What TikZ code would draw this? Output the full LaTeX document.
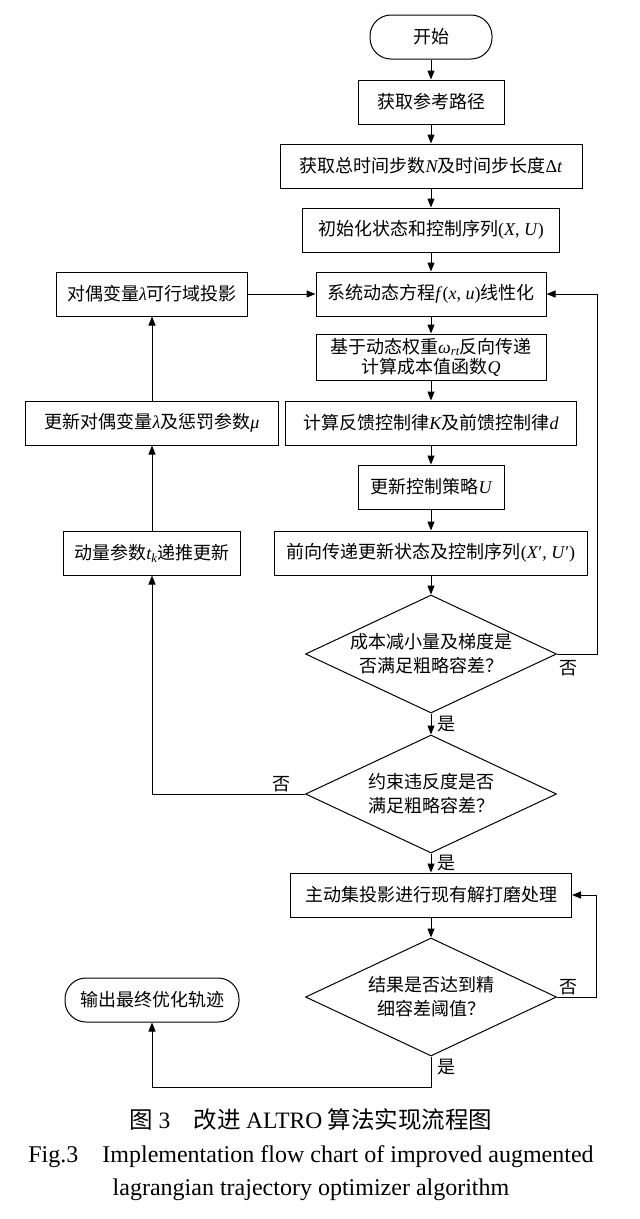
\documentclass[tikz,border=0pt]{standalone}
\usepackage{fontspec}
\setmainfont{Liberation Serif}
\newfontfamily\cjk{Noto Sans CJK SC}
\usetikzlibrary{shapes.geometric,arrows.meta}

\newcommand{\vi}[1]{{\rmfamily\itshape #1}}

\tikzstyle{box}=[draw, line width=1pt, minimum height=44pt, inner sep=2pt, font=\cjk\fontsize{18}{22}\selectfont, align=center]
\tikzstyle{term}=[box, rounded corners=21pt]
\tikzstyle{dec}=[draw, diamond, line width=1pt, minimum width=251pt, minimum height=118pt, inner sep=0pt]
\tikzstyle{txt}=[font=\cjk\fontsize{18}{24}\selectfont, align=center]
\tikzstyle{lbl}=[font=\cjk\fontsize{18}{22}\selectfont, inner sep=2pt]
\tikzstyle{arr}=[black, line width=1pt, -{Triangle[length=9pt,width=7pt]}]

\begin{document}
\begin{tikzpicture}[x=1pt, y=-1pt]
  \useasboundingbox (0,0) rectangle (640,1219);

  % main column
  \node (start) [term, minimum width=122pt] at (431,37) {开始};
  \node (r1) [box, minimum width=146pt] at (431,102) {获取参考路径};
  \node (r2) [box, minimum width=302pt] at (431,166) {获取总时间步数\vi{N}及时间步长度{\rmfamily Δ\textit{t}}};
  \node (r3) [box, minimum width=257pt] at (431,230) {初始化状态和控制序列{\rmfamily(\textit{X}, \textit{U})}};
  \node (r4) [box, minimum width=230pt] at (431,294) {系统动态方程{\rmfamily\textit{f}(\textit{x}, \textit{u})}线性化};
  \node (r5) [box, minimum width=230pt, minimum height=46pt, inner sep=0pt, font=\cjk\fontsize{18}{20}\selectfont] at (431,357) {基于动态权重{\rmfamily\itshape ω\textsubscript{rt}}反向传递\\计算成本值函数\vi{Q}};
  \node (r6) [box, minimum width=291pt] at (431,423) {计算反馈控制律\vi{K}及前馈控制律\vi{d}};
  \node (r7) [box, minimum width=146pt] at (431,487) {更新控制策略\vi{U}};
  \node (r8) [box, minimum width=313pt] at (431,553) {前向传递更新状态及控制序列{\rmfamily(\textit{X}′, \textit{U}′)}};
  \node (d1) [dec] at (431,654) {};
  \node (d1t) [txt] at (d1) {成本减小量及梯度是\\否满足粗略容差？};
  \node (d2) [dec] at (431,794) {};
  \node (d2t) [txt] at (d2) {约束违反度是否\\满足粗略容差？};
  \node (r9) [box, minimum width=281pt] at (431,895) {主动集投影进行现有解打磨处理};
  \node (d3) [dec] at (431,997) {};
  \node (d3t) [txt] at (d3) {结果是否达到精\\细容差阈值？};

  % left column
  \node (l1) [box, minimum width=191pt] at (152,294) {对偶变量\vi{λ}可行域投影};
  \node (l2) [box, minimum width=253pt] at (152,423) {更新对偶变量\vi{λ}及惩罚参数\vi{μ}};
  \node (l3) [box, minimum width=177pt] at (152,553) {动量参数{\rmfamily\itshape t\textsubscript{k}}递推更新};
  \node (fin) [term, minimum width=174pt] at (152,1000) {输出最终优化轨迹};

  \draw [arr] (start) -- (r1);
  \draw [arr] (r1) -- (r2);
  \draw [arr] (r2) -- (r3);
  \draw [arr] (r3) -- (r4);
  \draw [arr] (r4) -- (r5);
  \draw [arr] (r5) -- (r6);
  \draw [arr] (r6) -- (r7);
  \draw [arr] (r7) -- (r8);
  \draw [arr] (r8) -- (d1);
  \draw [arr] (d1) -- node (y1) [lbl, right=4pt] {是} (d2);
  \draw [arr] (d2) -- node (y2) [lbl, right=4pt] {是} (r9);
  \draw [arr] (r9) -- (d3);

  % loops back
  \coordinate (c1) at (597,654);
  \draw [arr] (d1.east) -- (c1) |- (r4.east);
  \node (n1) [lbl, below right, yshift=-4pt] at (d1.east) {否};
  \draw [arr] (d2.west) -| (l3.south);
  \node (n2) [lbl, above left, xshift=-12pt] at (d2.west) {否};
  \draw [arr] (l3) -- (l2);
  \draw [arr] (l2) -- (l1);
  \draw [arr] (l1) -- (r4);
  \coordinate (c3) at (596,997);
  \draw [arr] (d3.east) -- (c3) |- (r9.east);
  \node (n3) [lbl, above right] at (d3.east) {否};
  \coordinate (c4) at (431,1087);
  \draw [arr] (d3.south) -- (c4) -| (fin.south);
  \node (y3) [lbl, below right, xshift=4pt] at (d3.south) {是};

  % caption
  \node (cap1) [font=\cjk\fontsize{23.5}{27}\selectfont] at (311,1120) {图 {\rmfamily 3}\quad 改进 {\rmfamily ALTRO} 算法实现流程图};
  \node (cap2) [font=\fontsize{24}{28}\selectfont] at (311,1157) {Fig.3\quad Implementation flow chart of improved augmented};
  \node (cap3) [font=\fontsize{24}{28}\selectfont] at (311,1190) {lagrangian trajectory optimizer algorithm};
\end{tikzpicture}
\end{document}
